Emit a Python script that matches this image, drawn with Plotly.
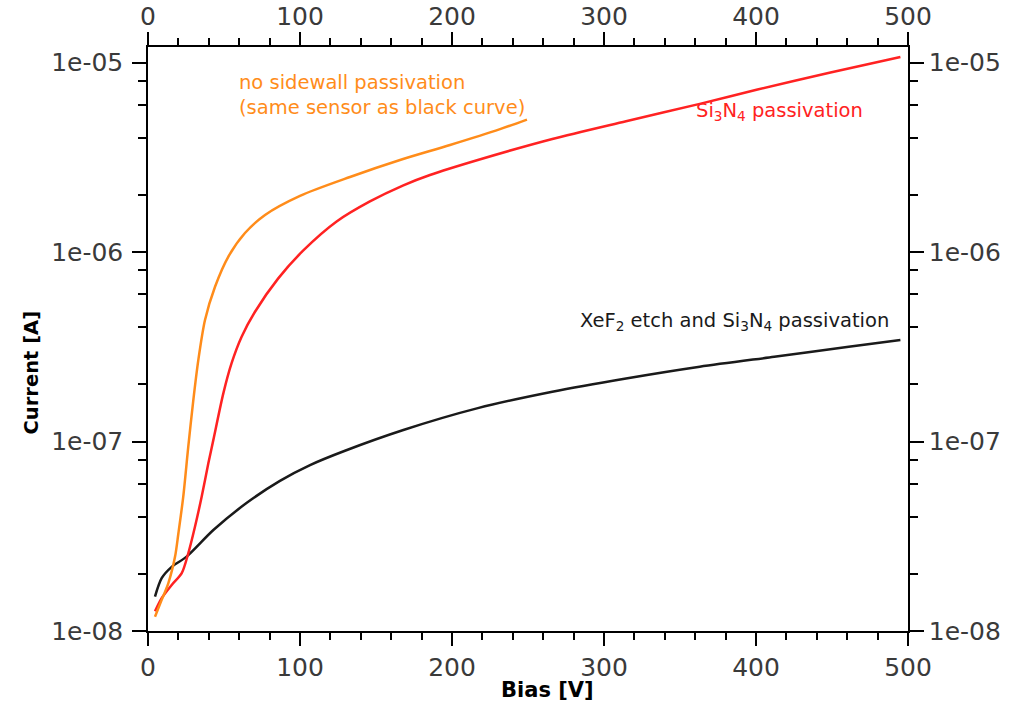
import plotly.graph_objects as go

# ---- data ----
bias_black = [4.6, 9, 15.6, 25.4, 43, 65, 86.8, 106.6, 129.6, 168, 217, 266, 314.5, 363, 412, 461, 495]
cur_black = [1.52e-8, 1.90e-8, 2.18e-8, 2.47e-8, 3.41e-8, 4.75e-8, 6.2e-8, 7.51e-8, 8.94e-8,
             1.15e-7, 1.50e-7, 1.83e-7, 2.15e-7, 2.48e-7, 2.80e-7, 3.16e-7, 3.43e-7]

bias_red = [4.6, 9, 15.6, 22.2, 26.5, 30.9, 35.3, 39.7, 43, 49.6, 55, 61.6, 70.4, 85.7, 102.2, 124.1,
            146, 168, 185.5, 217, 266, 314.5, 363, 401, 449, 495]
cur_red = [1.27e-8, 1.49e-8, 1.75e-8, 2.02e-8, 2.57e-8, 3.55e-8, 5.11e-8, 7.67e-8, 1.02e-7, 1.80e-7, 2.59e-7,
           3.57e-7, 4.84e-7, 7.26e-7, 1.02e-6, 1.45e-6, 1.85e-6, 2.25e-6, 2.55e-6, 3.06e-6, 3.95e-6,
           4.9e-6, 6.05e-6, 7.2e-6, 8.85e-6, 1.07e-5]

bias_orange = [4.6, 9, 13.4, 17.8, 20, 23.2, 26.5, 29.8, 33.1, 37.5, 44.1, 52.8, 63.8, 77, 100, 132.9,
               165.8, 198.7, 231.6, 249.3]
cur_orange = [1.19e-8, 1.46e-8, 1.79e-8, 2.47e-8, 3.28e-8, 5.12e-8, 9.40e-8, 1.65e-7, 2.69e-7, 4.38e-7,
              6.56e-7, 9.44e-7, 1.26e-6, 1.57e-6, 1.98e-6, 2.49e-6, 3.06e-6, 3.67e-6, 4.45e-6, 5.0e-6]

x_ticks = [0, 100, 200, 300, 400, 500]
y_ticks = [1e-8, 1e-7, 1e-6, 1e-5]
y_tick_text = ["1e-08", "1e-07", "1e-06", "1e-05"]
x_minor = [v for v in range(0, 501, 20) if v % 100 != 0]
y_minor = [m * 10.0 ** e for e in (-8, -7, -6) for m in (2, 4, 6, 8)]

X_RANGE = [0, 500]
Y_RANGE = [-8, -4.918]

TICK_FONT = dict(family="DejaVu Sans", size=25, color="#3a3a3a")
ANN_SIZE = 19.5

fig = go.Figure()
fig.add_trace(go.Scatter(x=bias_black, y=cur_black, mode="lines", line=dict(color="#1a1a1a", width=2.5, shape="spline", smoothing=0.8), showlegend=False))
fig.add_trace(go.Scatter(x=bias_red, y=cur_red, mode="lines", line=dict(color="#ff2222", width=2.5, shape="spline", smoothing=0.8), showlegend=False))
fig.add_trace(go.Scatter(x=bias_orange, y=cur_orange, mode="lines", line=dict(color="#ff8c1a", width=2.5, shape="spline", smoothing=0.8), showlegend=False))
# invisible trace to anchor the mirrored (top/right) labelled axes
fig.add_trace(go.Scatter(x=[None], y=[None], xaxis="x2", yaxis="y2", mode="lines", showlegend=False, hoverinfo="skip"))

common_axis = dict(showline=True, linecolor="black", linewidth=1.5, ticks="outside", tickcolor="black",
                   tickwidth=1.5, showgrid=False, zeroline=False, tickfont=TICK_FONT, automargin=False)
x_minor_cfg = dict(tickvals=x_minor, ticks="outside", ticklen=7, tickwidth=1.5, tickcolor="black")
y_minor_cfg = dict(tickvals=y_minor, ticks="outside", ticklen=8, tickwidth=1.5, tickcolor="black")

fig.update_layout(
    width=1012, height=704,
    margin=dict(l=148, r=104, t=47, b=73),
    paper_bgcolor="white", plot_bgcolor="white",
    xaxis=dict(range=X_RANGE, tickvals=x_ticks, ticklen=13, minor=x_minor_cfg, **common_axis),
    xaxis2=dict(range=X_RANGE, tickvals=x_ticks, ticklen=13, overlaying="x", side="top", anchor="y",
                ticklabelstandoff=-3, minor=x_minor_cfg, **common_axis),
    yaxis=dict(type="log", range=Y_RANGE, tickvals=y_ticks, ticktext=y_tick_text, ticklen=14,
               ticklabelstandoff=4, minor=y_minor_cfg, **common_axis),
    yaxis2=dict(type="log", range=Y_RANGE, tickvals=y_ticks, ticktext=y_tick_text, ticklen=14,
                overlaying="y", side="right", anchor="x", minor=y_minor_cfg, **common_axis),
    annotations=[
        dict(text="no sidewall passivation<br>(same sensor as black curve)", x=58.6, y=-5.169, xref="x", yref="y",
             xanchor="left", yanchor="middle", align="left", showarrow=False,
             font=dict(family="DejaVu Sans", size=ANN_SIZE, color="#ff8c1a")),
        dict(text="Si<sub>3</sub>N<sub>4</sub> passivation", x=359, y=-5.256, xref="x", yref="y",
             xanchor="left", yanchor="middle", showarrow=False,
             font=dict(family="DejaVu Sans", size=ANN_SIZE, color="#ff2222")),
        dict(text="XeF<sub>2</sub> etch and Si<sub>3</sub>N<sub>4</sub> passivation", x=283, y=-6.364, xref="x", yref="y",
             xanchor="left", yanchor="middle", showarrow=False,
             font=dict(family="DejaVu Sans", size=ANN_SIZE, color="#1a1a1a")),
        dict(text="<b>Bias [V]</b>", x=0.526, y=-0.101, xref="paper", yref="paper", xanchor="center", yanchor="middle",
             showarrow=False, font=dict(family="DejaVu Sans", size=21, color="black")),
        dict(text="<b>Current [A]</b>", x=-0.152, y=0.4435, xref="paper", yref="paper", xanchor="center", yanchor="middle",
             textangle=-90, showarrow=False, font=dict(family="DejaVu Sans", size=19.5, color="black")),
    ],
)

fig.write_html("out.html")
